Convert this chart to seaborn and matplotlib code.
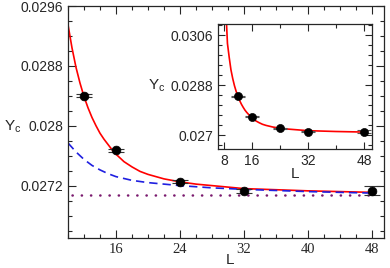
import matplotlib
matplotlib.use("Agg")
import matplotlib.pyplot as plt
from matplotlib.ticker import FixedLocator, MultipleLocator, FuncFormatter
import numpy as np
import pandas as pd
import seaborn as sns

# measured points
L_data = [12, 16, 24, 32, 48]
Yc_data = [0.02840, 0.02767, 0.02725, 0.02713, 0.02713]
Yc_err = [0.00002, 0.00002, 0.00002, 0.00003, 0.00006]

# fit curve (red)
L_fit = [8.7, 9.0, 9.5, 10.0, 10.5, 11.0, 11.5, 12.0, 12.5, 13.0, 13.5, 14.0,
         14.5, 15.0, 15.5, 16.0, 17.0, 18.0, 19.0, 20.0, 22.0, 24.0, 26.0,
         28.0, 32.0, 40.0, 48.0]
Yc_fit = [0.03110, 0.03030, 0.02980, 0.02935, 0.02904, 0.02878, 0.02857,
          0.02839, 0.02824, 0.02811, 0.02800, 0.02790, 0.02782, 0.02775,
          0.02768, 0.02762, 0.02752, 0.02745, 0.02739, 0.02735, 0.02729,
          0.02725, 0.02722, 0.02720, 0.02716, 0.02713, 0.02711]

# leading-order curve (blue dashed)
L_lead = [10.0, 11.0, 12.0, 13.0, 14.0, 15.0, 16.0, 18.0, 20.0, 22.0, 24.0,
          28.0, 32.0, 40.0, 48.0]
Yc_lead = [0.02777, 0.02765, 0.02755, 0.02747, 0.02741, 0.02736, 0.02732,
           0.02727, 0.02724, 0.02722, 0.02720, 0.02717, 0.02715, 0.02712,
           0.02710]

# asymptote (dotted)
L_inf = [10.5, 48.0]
Yc_inf = [0.02707, 0.02707]

sns.set_style("ticks")
plt.rcParams["font.family"] = ["Liberation Sans", "DejaVu Sans"]
plt.rcParams["font.size"] = 10
plt.rcParams["axes.linewidth"] = 0.9

fmt_g = FuncFormatter(lambda v, pos: f"{v:g}")

fig = plt.figure(figsize=(3.9, 2.68), dpi=100)
ax = fig.add_axes([68 / 390, 30 / 268, 316 / 390, 232 / 268])

fit_df = pd.DataFrame({"L": L_fit, "Yc": Yc_fit})
lead_df = pd.DataFrame({"L": L_lead, "Yc": Yc_lead})
pts_df = pd.DataFrame({"L": L_data, "Yc": Yc_data})

sns.lineplot(data=fit_df, x="L", y="Yc", color="red", lw=1.2,
             solid_joinstyle="round", ax=ax)
sns.lineplot(data=lead_df, x="L", y="Yc", color="#1f1fe0", lw=1.2,
             linestyle=(0, (5, 3)), ax=ax)
ax.plot(L_inf, Yc_inf, color="#7a1a6e", lw=1.8, linestyle=(0, (0.1, 3.6)),
        dash_capstyle="round")
ax.errorbar(L_data, Yc_data, yerr=Yc_err, fmt="none", ecolor="#333333",
            elinewidth=0.8, capsize=6, capthick=0.8)
sns.scatterplot(data=pts_df, x="L", y="Yc", color="black", s=40,
                edgecolor="black", zorder=5, ax=ax)

ax.set_xlim(10, 49.5)
ax.set_ylim(0.0265, 0.0296)
ax.xaxis.set_major_locator(FixedLocator([16, 24, 32, 40, 48]))
ax.xaxis.set_minor_locator(MultipleLocator(2))
ax.yaxis.set_major_locator(FixedLocator([0.0272, 0.028, 0.0288, 0.0296]))
ax.yaxis.set_minor_locator(MultipleLocator(0.0002))
ax.yaxis.set_major_formatter(fmt_g)
ax.tick_params(which="both", direction="in", top=True, right=True, width=0.8)
ax.tick_params(which="major", length=6)
ax.tick_params(which="minor", length=3)
for lab in ax.get_xticklabels():
    lab.set_family("Liberation Serif")
    lab.set_fontsize(10.5)
ax.set_xlabel("L", fontsize=11)
ax.xaxis.set_label_coords(0.513, -0.065)
ax.set_ylabel("Y$_\\mathregular{c}$", rotation=0, fontsize=11, ha="center", va="center")
ax.yaxis.set_label_coords(-0.175, 0.48)

# inset
ins = fig.add_axes([218 / 390, 119 / 268, 154 / 390, 125 / 268])
ins.set_facecolor("white")
sns.lineplot(data=fit_df, x="L", y="Yc", color="red", lw=1.2,
             solid_joinstyle="round", ax=ins)
ins.errorbar(L_data, Yc_data, yerr=Yc_err, fmt="none", ecolor="#555555",
             elinewidth=0.8, capsize=5, capthick=0.8)
sns.scatterplot(data=pts_df, x="L", y="Yc", color="black", s=34,
                edgecolor="black", zorder=5, ax=ins)
ins.set_xlim(6.3, 50.3)
ins.set_ylim(0.0265, 0.0310)
ins.xaxis.set_major_locator(FixedLocator([8, 16, 32, 48]))
ins.xaxis.set_minor_locator(FixedLocator([24, 40]))
ins.yaxis.set_major_locator(FixedLocator([0.027, 0.0288, 0.0306]))
ins.yaxis.set_minor_locator(MultipleLocator(0.00036))
ins.yaxis.set_major_formatter(fmt_g)
ins.tick_params(which="both", direction="in", top=True, right=True, width=0.8)
ins.tick_params(which="major", length=5)
ins.tick_params(which="minor", length=3)
ins.set_xlabel("L", fontsize=11)
ins.xaxis.set_label_coords(0.5, -0.14)
ins.set_ylabel("Y$_\\mathregular{c}$", rotation=0, fontsize=11, ha="center", va="center")
ins.yaxis.set_label_coords(-0.40, 0.51)

fig.savefig("out.png", dpi=100)
